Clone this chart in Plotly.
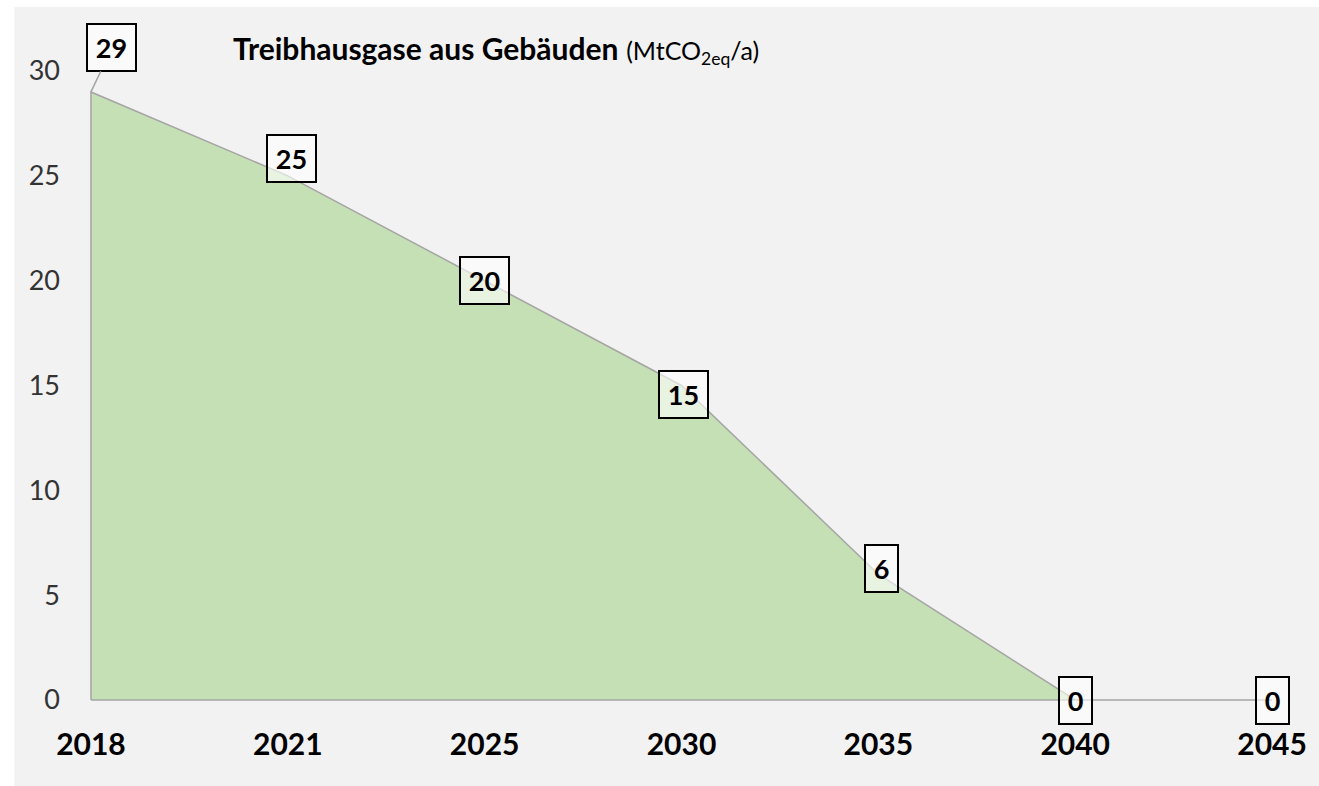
import plotly.graph_objects as go

# ---- data ----
years = ["2018", "2021", "2025", "2030", "2035", "2040", "2045"]
emissions = [29, 25, 20, 15, 6, 0, 0]
y_ticks = [0, 5, 10, 15, 20, 25, 30]
title_main = "Treibhausgase aus Gebäuden"
title_unit = "(MtCO<sub>2eq</sub>/a)"

# label box offsets (pixels) – styling only
label_dx = [0, 4, 0, 2, 3, 0, 0]
label_dy = [0, 17, 0, -9, 6, 0, 0]

W, H = 1319, 786
L, R, T, B = 81, 32, 50, 76
pw, ph = W - L - R, H - T - B

idx = list(range(len(years)))
xr = [-0.0506, 6.0506]
yr = [-0.477, 31.0]

def px2paper_x(px):
    return (px - L) / pw

def px2paper_y(py):
    return (H - B - py) / ph

fig = go.Figure()

# area polygon (closed along baseline)
fig.add_trace(go.Scatter(
    x=[idx[0]] + idx + [idx[0]],
    y=[0] + emissions + [0],
    mode="lines",
    fill="toself",
    fillcolor="#c5e0b4",
    line=dict(color="#a5a5a5", width=1.5),
    hoverinfo="skip",
    showlegend=False,
))

annotations = []
for i, (yr_lbl, v) in enumerate(zip(years, emissions)):
    w = 31 if v < 10 else 47
    common = dict(
        x=idx[i], y=v, xref="x", yref="y",
        text=f"<b>{v}</b>",
        font=dict(family="Lato", size=27, color="black"),
        bgcolor="rgba(255,255,255,0.6)", bordercolor="black",
        borderwidth=2, borderpad=0, width=w, height=45,
    )
    if i == 0:
        annotations.append(dict(
            **common, showarrow=True, arrowhead=0,
            arrowcolor="#a5a5a5", arrowwidth=1.5, ax=21, ay=-44,
            standoff=0, startstandoff=0,
        ))
    else:
        annotations.append(dict(
            **common, showarrow=False,
            xshift=label_dx[i], yshift=label_dy[i],
        ))

annotations.append(dict(
    x=px2paper_x(232), y=px2paper_y(49), xref="paper", yref="paper",
    xanchor="left", yanchor="middle", showarrow=False,
    text=f"<b>{title_main}</b> <span style='font-size:25px'>{title_unit}</span>",
    font=dict(family="Lato", size=30, color="black"),
))

fig.update_layout(
    width=W, height=H,
    margin=dict(l=L, r=R, t=T, b=B, pad=0),
    paper_bgcolor="white",
    plot_bgcolor="rgba(0,0,0,0)",
    showlegend=False,
    annotations=annotations,
    shapes=[dict(
        type="rect", xref="paper", yref="paper", layer="below",
        x0=px2paper_x(14), x1=px2paper_x(W + 5),
        y0=px2paper_y(H + 5), y1=px2paper_y(7),
        fillcolor="#f2f2f2", line=dict(width=0),
    )],
    xaxis=dict(
        range=xr, tickvals=idx, ticktext=[f"<b>{y}</b>" for y in years],
        showgrid=False, zeroline=False, showline=False, ticks="",
        tickfont=dict(family="Lato", size=30, color="black"),
        ticklabelstandoff=14, fixedrange=True,
    ),
    yaxis=dict(
        range=yr, tickvals=y_ticks,
        showgrid=False, zeroline=False, showline=False, ticks="",
        tickfont=dict(family="Lato", size=27, color="#333333"),
        ticklabelstandoff=20, fixedrange=True,
    ),
)

fig.write_html("out.html")
